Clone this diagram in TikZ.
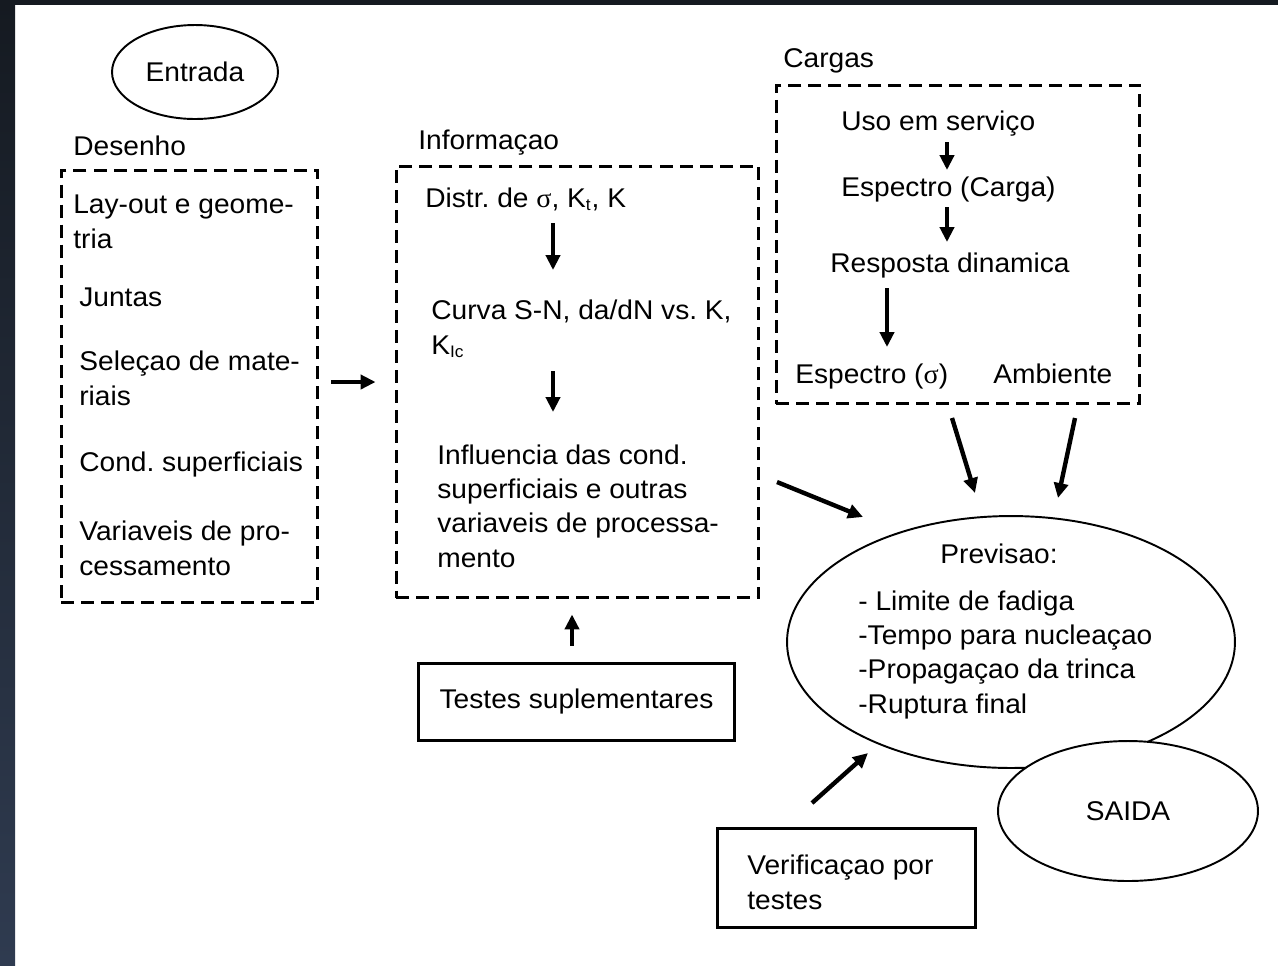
\documentclass[tikz,border=0pt]{standalone}
\usepackage{fontspec}
\setmainfont[FakeStretch=1.04]{Liberation Sans}
\newfontfamily\symfont[FakeStretch=1.04]{Liberation Serif}
\usetikzlibrary{arrows.meta,shapes.geometric}
\definecolor{frametop}{HTML}{151A21}
\definecolor{framebot}{HTML}{2F3B50}
\newcommand{\sigm}{{\symfont σ}}
\newcommand{\subx}[1]{\textsubscript{\fontsize{9.5}{9.5}\selectfont #1}}
\frenchspacing

\begin{document}
\begin{tikzpicture}[x=0.02cm, y=-0.02cm,
    txt/.style={anchor=base west, inner sep=0pt, align=left, font=\fontsize{15.4}{19.5}\selectfont},
    grp/.style={draw, line width=1.7pt, dash pattern=on 7.4pt off 4pt},
    box/.style={draw, line width=1.7pt, font=\fontsize{15.4}{19.5}\selectfont},
    oval/.style={ellipse, draw, line width=1.1pt, fill=white, inner sep=0pt, font=\fontsize{15.4}{19.5}\selectfont},
    arr/.style={line width=2.5pt, -{Triangle[length=8.5pt,width=8pt]}}
]
    % frame of the slide
    \shade[top color=frametop, bottom color=framebot] (0,0) rectangle (15,965);
    \fill[frametop] (0,0) rectangle (1278,5);
    \useasboundingbox (0,0) rectangle (1278,965);

    % entrada (multi-line texts sit on their last baseline)
    \node[oval, minimum width=3.32cm, minimum height=1.88cm] (entrada) at (195,72) {Entrada};
    \node[txt] (desenho) at (73,155) {Desenho};
    \node[grp, minimum width=5.14cm, minimum height=8.66cm] (desbox) at (189.5,386.5) {};
    \node[txt] (layout) at (73,248) {Lay-out e geome-\\tria};
    \node[txt] (juntas) at (79,306) {Juntas};
    \node[txt] (selecao) at (79,405) {Seleçao de mate-\\riais};
    \node[txt] (cond) at (79,471) {Cond. superficiais};
    \node[txt] (variaveis) at (79,575) {Variaveis de pro-\\cessamento};

    % informacao
    \node[txt] (informacao) at (418,149) {Informaçao};
    \node[grp, minimum width=7.26cm, minimum height=8.64cm] (infobox) at (577.5,382) {};
    \node[txt] (distr) at (425,207) {Distr. de \sigm, K\subx{t}, K};
    \node[txt] (curva) at (431,354) {Curva S-N, da/dN vs. K,\\K\subx{Ic}};
    \node[txt] (influencia) at (437,567) {Influencia das cond.\\superficiais e outras\\variaveis de processa-\\mento};
    \node[box, minimum width=6.34cm, minimum height=1.54cm] (testes) at (576.5,701.5) {Testes suplementares};

    % cargas
    \node[txt] (cargas) at (783,67) {Cargas};
    \node[grp, minimum width=7.28cm, minimum height=6.38cm] (cargabox) at (958,244.5) {};
    \node[txt] (uso) at (841,130) {Uso em serviço};
    \node[txt] (espcarga) at (841,196) {Espectro (Carga)};
    \node[txt] (resposta) at (830,272) {Resposta dinamica};
    \node[txt] (espsig) at (795,383) {Espectro (\sigm)};
    \node[txt] (ambiente) at (993,383) {Ambiente};

    % saida
    \node[oval, minimum width=8.96cm, minimum height=5.04cm] (previsao) at (1011,642) {};
    \node[txt, anchor=base] (prevtit) at (999,563) {Previsao:};
    \node[txt] (lista) at (858,713) {- Limite de fadiga\\-Tempo para nucleaçao\\-Propagaçao da trinca\\-Ruptura final};
    \node[oval, minimum width=5.2cm, minimum height=2.8cm] (saida) at (1128,811) {SAIDA};
    \node[box, minimum width=5.18cm, minimum height=1.98cm] (verifbox) at (846.5,877.5) {};
    \node[txt] (verif) at (747,909) {Verificaçao por\\testes};

    % arrow ends
    \coordinate (a1) at (553,223);  \coordinate (a2) at (553,270);
    \coordinate (a3) at (553,371);  \coordinate (a4) at (553,412);
    \coordinate (b1) at (947,142);  \coordinate (b2) at (947,170);
    \coordinate (b3) at (947,207);  \coordinate (b4) at (947,242);
    \coordinate (b5) at (887,288);  \coordinate (b6) at (887,347);
    \coordinate (c1) at (952,418);  \coordinate (c2) at (975,493);
    \coordinate (c3) at (1075,418); \coordinate (c4) at (1058,498);
    \coordinate (c5) at (777,482);  \coordinate (c6) at (863,517);
    \coordinate (c7) at (812,803);  \coordinate (c8) at (868,753);

    \draw[arr, shorten <=0.24cm, shorten >=0.38cm] (desbox.east |- infobox.west) -- (infobox.west);
    \draw[arr, shorten <=0.32cm, shorten >=0.3cm] ([xshift=-0.09cm]testes.north) -- ([xshift=-0.09cm]testes.north |- infobox.south);
    \draw[arr] (a1) -- (a2);
    \draw[arr] (a3) -- (a4);
    \draw[arr] (b1) -- (b2);
    \draw[arr] (b3) -- (b4);
    \draw[arr] (b5) -- (b6);
    \draw[arr] (c1) -- (c2);
    \draw[arr] (c3) -- (c4);
    \draw[arr] (c5) -- (c6);
    \draw[arr] (c7) -- (c8);
\end{tikzpicture}
\end{document}
